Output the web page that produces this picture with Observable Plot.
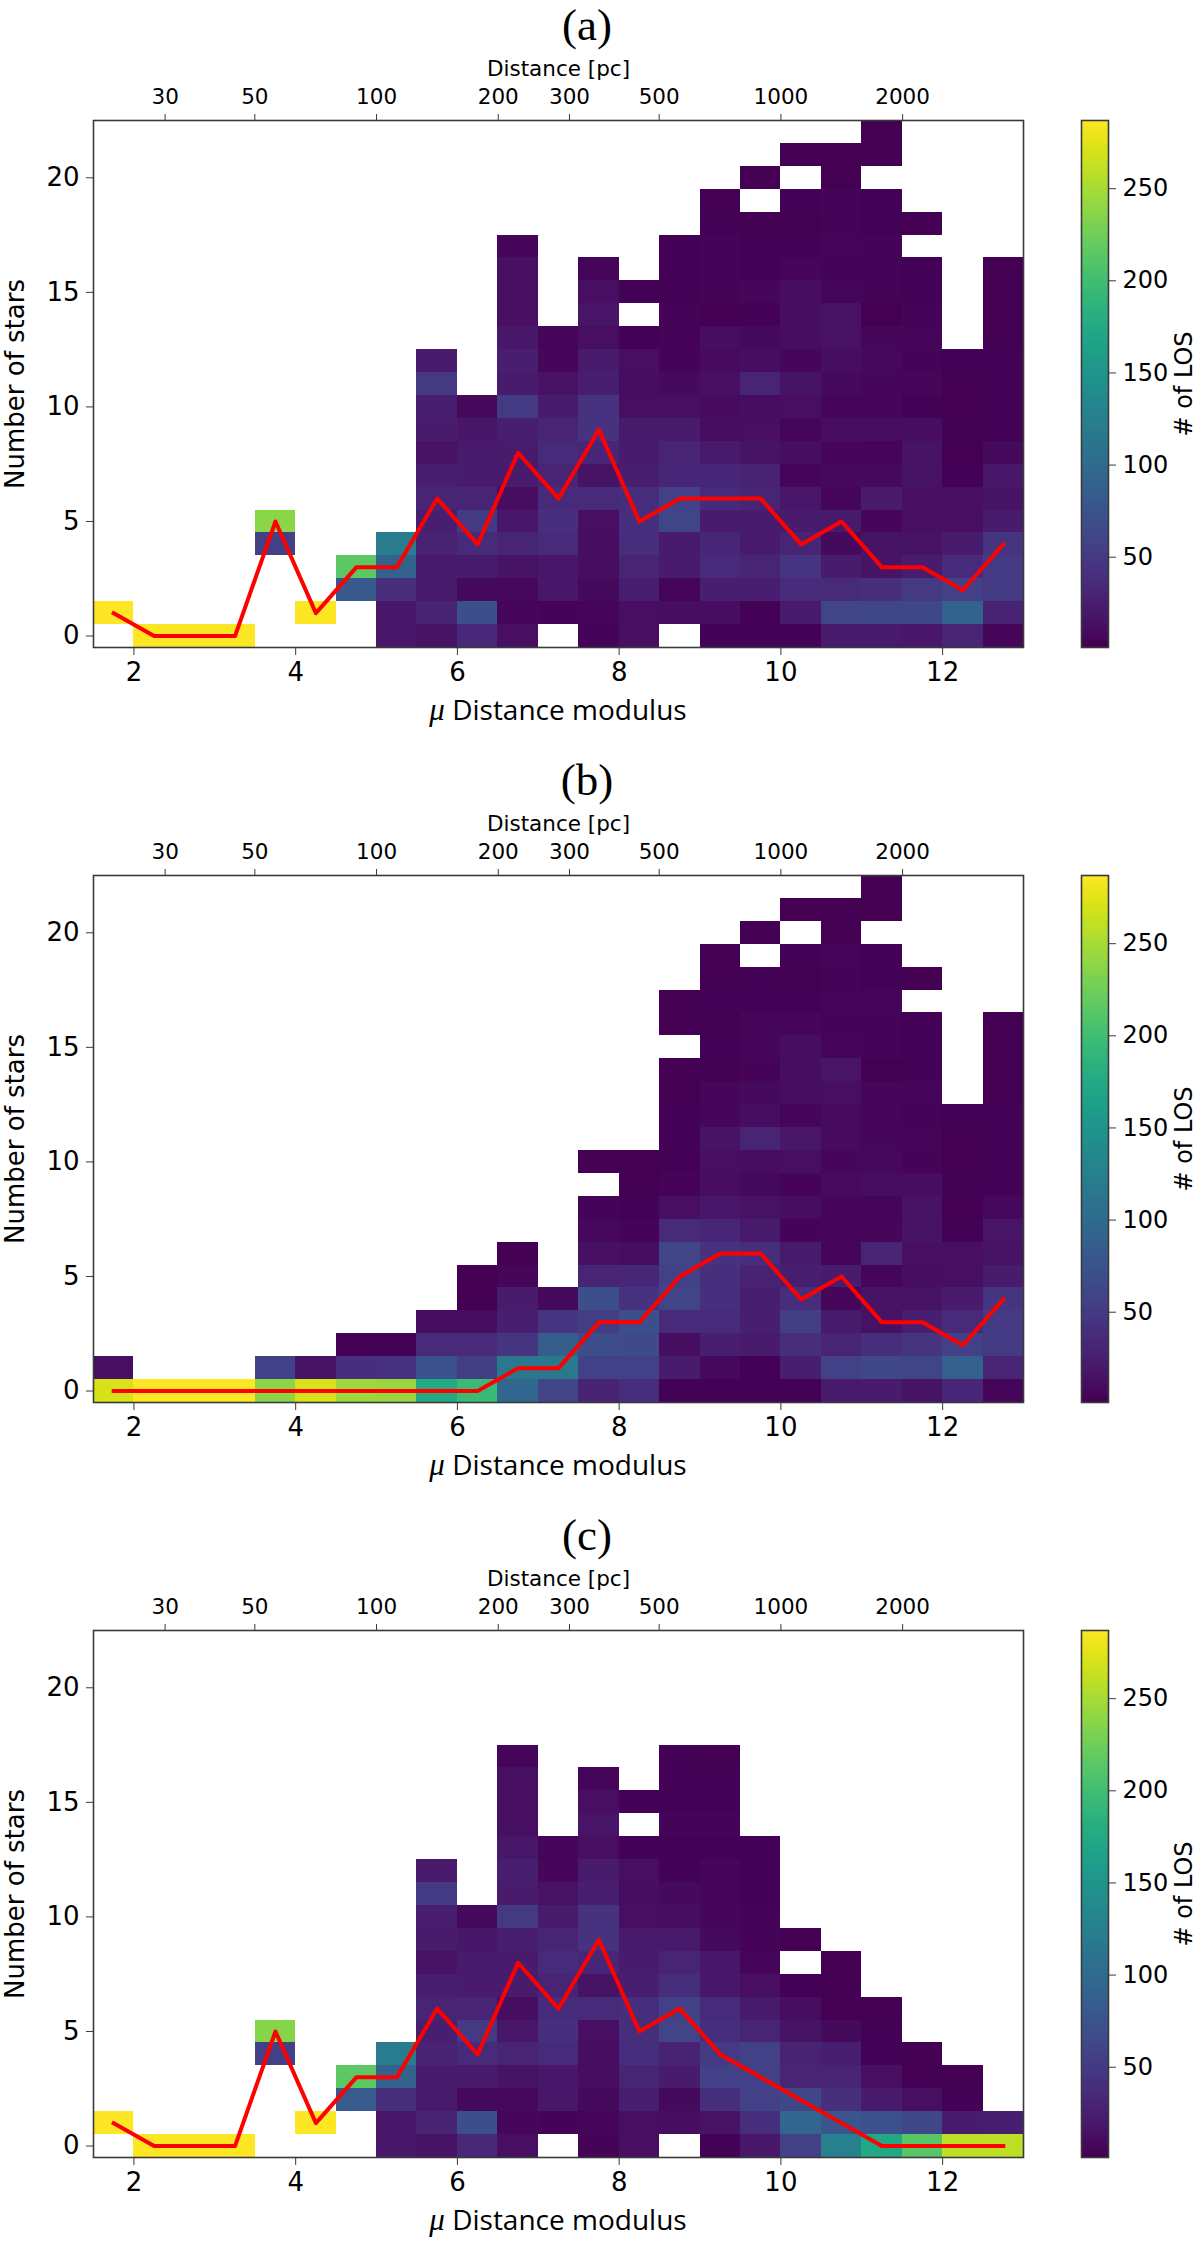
<!DOCTYPE html>
<html><head><meta charset="utf-8">
<script src="https://cdn.jsdelivr.net/npm/d3@7"></script>
<script src="https://cdn.jsdelivr.net/npm/@observablehq/plot@0.6"></script>
<style>
html,body{margin:0;padding:0;background:#fff}
#fig{position:relative;width:1200px;height:2241px;overflow:hidden;background:#fff}
.panel,.bar{position:absolute}
.panel svg,.bar svg{display:block;background:transparent}
.t{position:absolute;white-space:nowrap;color:#000;line-height:1.1;transform:translate(-50%,0)}
.title{font-family:"Liberation Serif",serif;font-size:45px}
.xl{font-family:"Open Sans",sans-serif;font-size:28px;line-height:1}
.xl i{font-family:"Liberation Serif",serif;font-size:31px}
</style></head><body><div id="fig"></div>
<script>
const _ = null;
const muBins = [1.5,2,2.5,3,3.5,4,4.5,5,5.5,6,6.5,7,7.5,8,8.5,9,9.5,10,10.5,11,11.5,12,12.5];
const muCentres = [1.75,2.25,2.75,3.25,3.75,4.25,4.75,5.25,5.75,6.25,6.75,7.25,7.75,8.25,8.75,9.25,9.75,10.25,10.75,11.25,11.75,12.25,12.75];
const starTicks = [0,5,10,15,20];
const muTicks = [2,4,6,8,10,12];
const distanceTicks = [30,50,100,200,300,500,1000,2000];
const losTicks = [50,100,150,200,250];
const panelNames = ["(a)","(b)","(c)"];

// One list per distance-modulus bin; position in the list = number of stars.
const losA = [
[_,287],[287],[287],[287],
[_,_,_,_,55,237],
[_,287],
[_,_,80,215],
[18,18,40,90,120],
[15,28,20,22,28,25,30,25,15,22,25,50,22],
[33,70,8,22,35,50,30,22,20,17,8],
[12,6,7,15,30,18,10,22,22,25,50,22,25,18,13,13,13,5],
[_,4,18,18,35,40,35,30,35,30,22,14,6,5],
[4,5,8,10,10,12,35,15,32,42,42,25,22,12,16,12,5],
[12,12,25,30,38,38,38,25,22,22,12,10,12,3,_,3],
[_,10,5,22,22,60,55,32,30,22,12,8,4,4,4,3,3,3],
[3,10,25,35,32,22,35,32,20,10,9,12,9,10,2,4,4,4,3,2],
[3,3,25,30,22,22,30,28,15,12,10,30,10,8,3,6,3,3,2,_,2],
[3,22,35,45,30,22,18,5,10,5,12,15,6,10,10,10,6,3,2,3,_,2],
[20,60,35,22,8,20,5,8,6,10,5,8,10,14,14,5,4,5,4,4,2,2],
[20,62,40,15,15,6,22,8,5,10,6,6,7,6,2,4,4,4,3,3,_,2,2],
[18,62,48,22,14,12,12,15,15,10,3,6,4,5,4,3,3,_,2],
[30,90,55,35,22,12,12,3,1,3,1,2,3],
[5,28,50,50,45,22,15,18,8,3,3,3,3,2,2,2,2]
];
const losB = [
[270,12],[287],[287],[287],
[237,55],
[270,15],
[245,40,3],
[243,42,3],
[175,72,35,10],
[195,52,35,10,2,2],
[95,115,45,25,22,5,2],
[58,115,85,45,8],
[28,55,68,52,70,30,13,7,4,_,2],
[38,55,65,70,42,32,10,4,3,2,2],
[3,22,10,35,58,55,58,35,12,4,3,3,3,2,2,_,2,2],
[3,8,25,35,40,40,42,32,18,10,12,15,6,6,2,3,2,3,2,2],
[3,3,22,25,25,28,38,20,14,8,10,30,10,8,4,6,5,3,3,_,2],
[3,25,38,52,38,25,20,4,10,4,12,18,5,10,10,10,6,3,2,3,_,2],
[20,55,30,20,6,22,5,5,6,9,6,9,9,12,16,5,4,5,4,5,2,2],
[22,62,38,14,15,5,30,6,5,10,7,6,6,6,2,4,4,5,3,3,_,2,2],
[15,60,45,25,14,10,12,15,15,10,4,5,4,5,3,3,3,_,2],
[32,88,55,35,22,12,12,3,1,3,1,2,3],
[5,30,50,50,45,22,15,16,7,3,3,3,3,2,2,2,2]
];
const losC = [
[_,287],[287],[287],[287],
[_,_,_,_,55,235],
[_,287],
[_,_,82,215],
[18,18,40,90,120],
[15,28,20,22,28,25,30,25,15,22,25,50,22],
[33,70,8,22,35,50,30,22,20,17,8],
[12,6,7,15,30,18,10,22,22,25,50,22,25,18,13,13,13,5],
[_,4,18,18,35,40,35,30,35,30,22,14,6,5],
[4,5,8,10,10,12,35,15,32,42,42,25,22,12,16,12,5],
[12,12,25,30,38,38,38,25,22,22,12,10,12,3,_,3],
[_,10,8,22,28,58,55,38,30,20,10,8,3,3,4,3,3,3],
[3,15,38,55,50,38,35,18,18,8,6,5,6,3,4,3,3,2],
[18,38,55,55,55,30,20,12,5,4,4,3,3,3],
[55,95,62,30,28,15,10,3,_,2],
[125,75,40,30,25,8,2,2,2],
[172,72,22,12,3,3,2],
[212,62,12,2,2],
[258,22,3,2],
[258,25]
];
const starsA = [1,0,0,0,5,1,3,3,6,4,8,6,9,5,6,6,6,4,5,3,3,2,4];
const starsB = [0,0,0,0,0,0,0,0,0,0,1,1,3,3,5,6,6,4,5,3,3,2,4];
const starsC = [1,0,0,0,5,1,3,3,6,4,8,6,9,5,6,4,3,2,1,0,0,0,0];

const colorOptions = {type:"linear", scheme:"viridis", domain:[1,287]};
const axisInk = "#3a3a3a";
const font = "DejaVu Sans";

function cells(table){
  const out = [];
  table.forEach((col,i)=>col.forEach((v,k)=>{ if(v!=null) out.push({mu:muBins[i],n:k,v}); }));
  return out;
}
const distToMu = d => 5*Math.log10(d)-5;
const muToDist = new Map(distanceTicks.map(d=>[distToMu(d),d]));

function panel(table, stars){
  return Plot.plot({
    width:1075, height:730, marginLeft:93, marginRight:52, marginTop:120, marginBottom:83,
    style:{fontFamily:font, background:"transparent", color:"#000"},
    x:{domain:[1.5,13]}, y:{domain:[-0.5,22.5]}, color:colorOptions,
    marks:[
      Plot.rect(cells(table),{x1:"mu",x2:d=>d.mu+0.5,y1:d=>d.n-0.5,y2:d=>d.n+0.5,fill:"v",shapeRendering:"crispEdges",inset:0}),
      Plot.line(muCentres.map((m,i)=>({m,s:stars[i]})),{x:"m",y:"s",stroke:"#ff0000",strokeWidth:4,strokeLinecap:"square",strokeLinejoin:"round",curve:"linear"}),
      Plot.frame({stroke:axisInk,strokeWidth:1.6}),
      Plot.axisX({anchor:"bottom",ticks:muTicks,tickSize:8,tickPadding:7,fontSize:26,label:null,stroke:axisInk,tickFormat:d=>String(d)}),
      Plot.axisX({anchor:"top",ticks:distanceTicks.map(distToMu),tickSize:7,tickPadding:10,fontSize:21.5,
        tickFormat:d=>String(muToDist.get(d)),label:"Distance [pc]",labelAnchor:"center",labelArrow:"none",labelOffset:60,stroke:axisInk}),
      Plot.axisY({anchor:"left",ticks:starTicks,tickSize:7,tickPadding:7,fontSize:26,label:"Number of stars",labelAnchor:"center",labelArrow:"none",labelOffset:88,stroke:axisInk})
    ]
  });
}

function colorbar(){
  const vals = d3.range(1,287);
  return Plot.plot({
    width:120, height:730, marginLeft:1, marginRight:92, marginTop:120, marginBottom:83,
    style:{fontFamily:font, background:"transparent", color:"#000"},
    x:{domain:[0,1],axis:null}, y:{domain:[1,287]}, color:colorOptions,
    marks:[
      Plot.rect(vals,{x1:()=>0,x2:()=>1,y1:d=>d,y2:d=>d+1,fill:d=>d,shapeRendering:"crispEdges"}),
      Plot.frame({stroke:axisInk,strokeWidth:1.6}),
      Plot.axisY({anchor:"right",ticks:losTicks,tickSize:7,tickPadding:7,fontSize:24,label:"# of LOS",labelAnchor:"center",labelArrow:"none",labelOffset:83,stroke:axisInk})
    ]
  });
}

const fig = document.getElementById("fig");
[[losA,starsA],[losB,starsB],[losC,starsC]].forEach(([t,s],i)=>{
  const top = i*755;
  const p = document.createElement("div"); p.className="panel"; p.style.left="0px"; p.style.top=top+"px"; p.appendChild(panel(t,s)); fig.appendChild(p);
  const b = document.createElement("div"); b.className="bar"; b.style.left="1080px"; b.style.top=top+"px"; b.appendChild(colorbar()); fig.appendChild(b);
  const ti = document.createElement("div"); ti.className="t title"; ti.textContent=panelNames[i]; ti.style.left="587px"; ti.style.top=(top+1)+"px"; fig.appendChild(ti);
  const xl = document.createElement("div"); xl.className="t xl"; xl.innerHTML="<i>μ</i> Distance modulus"; xl.style.left="558px"; xl.style.top=(top+694)+"px"; fig.appendChild(xl);
});
</script></body></html>
